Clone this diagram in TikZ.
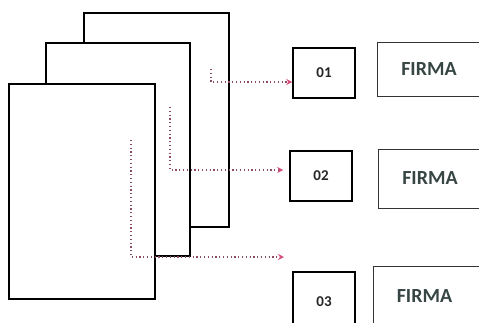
\documentclass[tikz,border=0pt]{standalone}
\usepackage{fontspec}
\setmainfont{Carlito}
\usetikzlibrary{arrows.meta}
\definecolor{dotc}{RGB}{140,75,100}
\definecolor{tipc}{RGB}{215,80,125}
\definecolor{txtc}{RGB}{55,70,68}
\begin{document}
\begin{tikzpicture}[x=1pt,y=-1pt,
  page/.style={draw=black,line width=2pt,fill=white},
  numbox/.style={draw=black,line width=1.5pt,fill=white,minimum width=62pt,minimum height=50pt,inner sep=0pt,font=\bfseries\fontsize{15}{15}\selectfont,text=black!85},
  firmabox/.style={draw=black!80,line width=1pt,fill=white,inner sep=0pt,font=\fontsize{20}{20}\selectfont\bfseries,text=txtc},
  conn/.style={draw=dotc,line width=1.3pt,dash pattern=on 1.2pt off 2.6pt,-{Stealth[length=6pt,width=6pt,color=tipc]}}]
\useasboundingbox (0,0) rectangle (479,322);
% pages
\draw[page] (84,13) rectangle (229,227);
\draw[page] (46,43) rectangle (190,256);
\draw[page] (9,84) rectangle (155,299);
% number boxes
\node[numbox] (o1) at (324,73) {01};
\node[numbox] (o2) at (321,176) {02};
\node[numbox,minimum height=60pt] (o3) at (324,302) {\raisebox{-4pt}{03}};
% firma boxes
\node[firmabox,minimum width=110pt,minimum height=54pt] (f1) at (432,69) {\hspace*{-6pt}FIRMA};
\node[firmabox,minimum width=110pt,minimum height=59pt] (f2) at (433,178.5) {\hspace*{-6pt}FIRMA};
\node[firmabox,minimum width=115pt,minimum height=62pt] (f3) at (430.5,297) {\hspace*{-12pt}\raisebox{2pt}{FIRMA}};
% connectors
\coordinate (s1) at (211,69);
\coordinate (k1) at (211,82);
\coordinate (s2) at (170,107);
\coordinate (k2) at (170,170);
\coordinate (s3) at (131,140);
\coordinate (k3) at (131,257);
\coordinate (e3) at (284,257);
\draw[conn] (s1) -- (k1) -- (o1.west |- k1);
\draw[conn,shorten >=6pt] (s2) -- (k2) -- (o2.west |- k2);
\draw[conn] (s3) -- (k3) -- (e3);
\end{tikzpicture}
\end{document}
